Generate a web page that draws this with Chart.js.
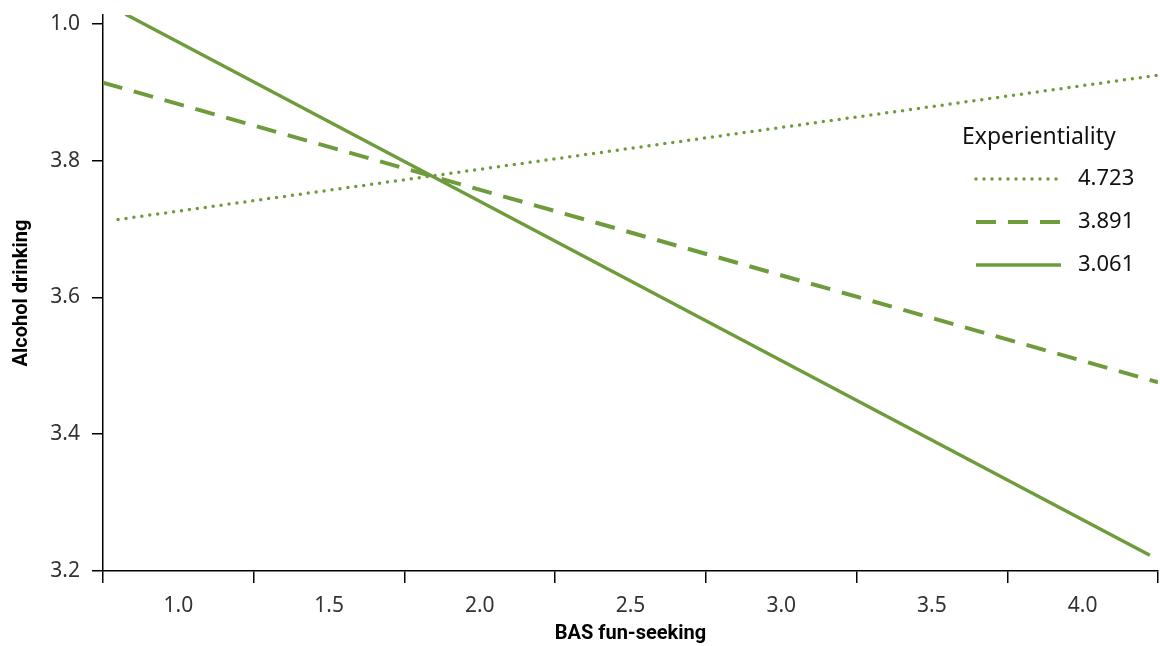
<!DOCTYPE html>
<html>
<head>
<meta charset="utf-8">
<script src="https://cdn.jsdelivr.net/npm/chart.js"></script>
<style>
  html, body { margin: 0; padding: 0; background: #fff; }
  #wrap { width: 1160px; height: 646px; }
</style>
</head>
<body>
<div id="wrap"><canvas id="lineChart" width="1160" height="646"></canvas></div>
<script>
    // Experientiality levels (legend order) and the two ends of each simple slope
    const experientiality = ['4.723', '3.891', '3.061'];
    const funSeekingStart = [0.80, 0.75, 0.825];
    const funSeekingEnd   = [4.25, 4.25, 4.223];
    const drinkingStart   = [3.714, 3.914, 4.014];
    const drinkingEnd     = [3.925, 3.476, 3.223];

    const xTicks = [1.0, 1.5, 2.0, 2.5, 3.0, 3.5, 4.0];
    const xTickLabels = ['1.0', '1.5', '2.0', '2.5', '3.0', '3.5', '4.0'];
    const yTicks = [3.2, 3.4, 3.6, 3.8, 4.0];
    const yTickLabels = ['3.2', '3.4', '3.6', '3.8', '1.0'];

    const green = '#6E9C3C';
    const dashes = [[0, 8], [20, 12], []];
    const widths = [3.5, 4, 3.5];

    const datasets = experientiality.map((lbl, i) => ({
        label: lbl,
        data: [
            { x: funSeekingStart[i], y: drinkingStart[i] },
            { x: funSeekingEnd[i], y: drinkingEnd[i] }
        ],
        borderColor: green,
        borderWidth: widths[i],
        borderDash: dashes[i],
        borderCapStyle: i === 0 ? 'round' : 'butt',
        pointRadius: 0,
        fill: false,
        tension: 0
    }));

    // legend drawn at the right, inside the plot, with line samples
    const sideLegend = {
        id: 'sideLegend',
        afterDatasetsDraw(chart) {
            const { ctx, chartArea } = chart;
            const x0 = chartArea.right - 196;
            ctx.save();
            ctx.font = '23px "Noto Sans"';
            ctx.fillStyle = '#111';
            ctx.textBaseline = 'middle';
            ctx.fillText('Experientiality', x0, 137);
            ctx.font = '22px "Noto Sans"';
            chart.data.datasets.forEach((ds, i) => {
                const y = 179 + i * 43;
                ctx.strokeStyle = ds.borderColor;
                ctx.lineWidth = ds.borderWidth;
                ctx.lineCap = ds.borderCapStyle;
                ctx.setLineDash(ds.borderDash);
                ctx.beginPath();
                ctx.moveTo(x0 + 14, y);
                ctx.lineTo(x0 + 99, y);
                ctx.stroke();
                ctx.setLineDash([]);
                ctx.fillText(ds.label, x0 + 116, y);
            });
            ctx.restore();
        }
    };

    const tickFont = { family: 'Noto Sans', size: 21 };
    const titleFont = { family: 'Roboto', size: 20, weight: 'bold' };

    new Chart(document.getElementById('lineChart').getContext('2d'), {
        type: 'line',
        data: { datasets },
        plugins: [sideLegend],
        options: {
            responsive: false,
            animation: false,
            layout: { padding: { top: 15, right: 2, left: 0, bottom: 0 } },
            plugins: {
                legend: { display: false },
                tooltip: { enabled: false }
            },
            scales: {
                x: {
                    type: 'linear',
                    min: 0.75,
                    max: 4.25,
                    afterBuildTicks: s => { s.ticks = xTicks.map(v => ({ value: v })); },
                    afterFit: s => { s.height = 75; s.paddingLeft = 0; s.paddingRight = 0; },
                    ticks: {
                        color: '#333',
                        font: tickFont,
                        padding: 10,
                        maxRotation: 0,
                        callback: (v, i) => xTickLabels[i]
                    },
                    grid: {
                        offset: true,
                        drawOnChartArea: false,
                        drawTicks: true,
                        tickLength: 12,
                        color: '#000',
                        lineWidth: 1.5
                    },
                    border: { display: true, color: '#000', width: 1.5 },
                    title: {
                        display: true,
                        text: 'BAS fun-seeking',
                        color: '#000',
                        font: titleFont,
                        padding: { top: 0, bottom: 0 }
                    }
                },
                y: {
                    type: 'linear',
                    min: 3.2,
                    max: 4.013,
                    afterBuildTicks: s => { s.ticks = yTicks.map(v => ({ value: v })); },
                    afterFit: s => { s.width = 103; s.paddingTop = 0; s.paddingBottom = 0; },
                    ticks: {
                        color: '#333',
                        font: tickFont,
                        padding: 12,
                        callback: (v, i) => yTickLabels[i]
                    },
                    grid: {
                        drawOnChartArea: false,
                        drawTicks: true,
                        tickLength: 11,
                        color: '#000',
                        lineWidth: 1.5
                    },
                    border: { display: true, color: '#000', width: 1.5 },
                    title: {
                        display: true,
                        text: 'Alcohol drinking',
                        color: '#000',
                        font: titleFont,
                        padding: { top: 10, bottom: 0 }
                    }
                }
            }
        }
    });
</script>
</body>
</html>
